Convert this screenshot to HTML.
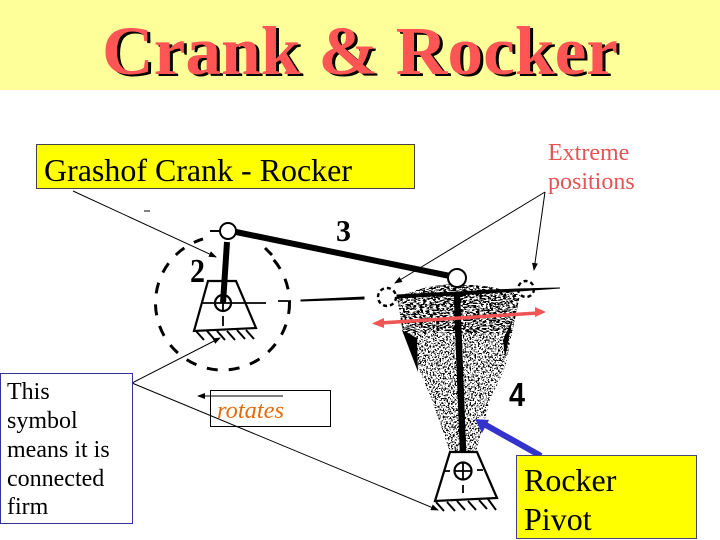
<!DOCTYPE html>
<html><head><meta charset="utf-8"><style>
html,body{margin:0;padding:0;background:#fff;width:720px;height:540px;overflow:hidden}
svg{display:block}
text{font-family:"Liberation Serif",serif}
</style></head><body>
<svg width="720" height="540" viewBox="0 0 720 540" xmlns="http://www.w3.org/2000/svg">
<defs>
<filter id="n1" x="0" y="0" width="100%" height="100%" color-interpolation-filters="sRGB">
<feTurbulence type="fractalNoise" baseFrequency="0.3 0.7" numOctaves="2" seed="4" result="t"/>
<feColorMatrix in="t" type="matrix" values="0 0 0 0 0 0 0 0 0 0 0 0 0 0 0 3 0 0 0 -1" result="a"/>
<feComponentTransfer in="a" result="d"><feFuncA type="discrete" tableValues="1 1 1 0 0 0"/></feComponentTransfer>
<feComposite in="d" in2="SourceAlpha" operator="in"/>
</filter>
<filter id="n2" x="0" y="0" width="100%" height="100%" color-interpolation-filters="sRGB">
<feTurbulence type="fractalNoise" baseFrequency="0.6 0.6" numOctaves="2" seed="9" result="t"/>
<feColorMatrix in="t" type="matrix" values="0 0 0 0 0 0 0 0 0 0 0 0 0 0 0 3 0 0 0 -1" result="a"/>
<feComponentTransfer in="a" result="d"><feFuncA type="discrete" tableValues="1 1 0 0 0 0"/></feComponentTransfer>
<feComposite in="d" in2="SourceAlpha" operator="in"/>
</filter>
<marker id="ah" markerWidth="8" markerHeight="6" refX="7" refY="3" orient="auto" markerUnits="userSpaceOnUse"><path d="M0 0L8 3L0 6z" fill="#000"/></marker>
</defs>

<rect x="0" y="0" width="720" height="90" fill="#ffff99"/>
<text x="105" y="76" font-size="69" font-weight="bold" fill="#000" textLength="516" lengthAdjust="spacingAndGlyphs">Crank &amp; Rocker</text>
<text x="102" y="74" font-size="69" font-weight="bold" fill="#ff5555" textLength="516" lengthAdjust="spacingAndGlyphs">Crank &amp; Rocker</text>

<!-- fan -->
<path d="M403 333L418 367L432 400L450 452H476L490 400L505 368L512 333Z" fill="#000" filter="url(#n2)"/>
<path d="M397 297Q455 272 520 295L512 333L403 333Z" fill="#000" filter="url(#n1)"/>
<path d="M402 330L417 338L418 372Z M518 307L512 322L505 358L503 340Z" fill="#000"/>

<!-- crank side -->
<circle cx="222.500" cy="303" r="67" fill="none" stroke="#000" stroke-width="3" stroke-dasharray="11 11"/>
<path d="M203 239A67 67 0 0 1 268 254" fill="none" stroke="#fff" stroke-width="7"/>
<path d="M265 248L272 255" stroke="#000" stroke-width="3"/>
<path d="M227 242L223 303" stroke="#000" stroke-width="6"/>
<path d="M236 232L450 276" stroke="#000" stroke-width="6"/>
<path d="M210 231H220" stroke="#000" stroke-width="2"/>
<circle cx="228" cy="231" r="8" fill="#fff" stroke="#000" stroke-width="2"/>
<path d="M208 281H236L256 328L194 331Z" fill="none" stroke="#000" stroke-width="2.200"/>
<circle cx="223" cy="303" r="8" fill="none" stroke="#000" stroke-width="2.200"/>
<path d="M202 303H266M223 295V311M223 316V326M278 301H288" stroke="#000" stroke-width="1.800" fill="none"/>
<path d="M301 300L364 297L364 299L301 301Z" fill="#000" stroke="#000"/>
<path d="M196 331L204 340M207 331L215 340M217 331L225 340M227 331L235 340M237 330L245 339M246 330L254 339" stroke="#000" stroke-width="2"/>

<!-- rocker -->
<path d="M397 295Q430 293 457 292Q500 289 560 288Q520 291 457 295Q430 296 397 298Z" fill="#000" stroke="#000"/>
<path d="M457 295L463 452" stroke="#000" stroke-width="6.500"/>
<circle cx="457" cy="278" r="9" fill="#fff" stroke="#000" stroke-width="2"/>
<circle cx="387" cy="297" r="9" fill="none" stroke="#000" stroke-width="2.400" stroke-dasharray="4 3"/>
<circle cx="526" cy="289" r="8" fill="none" stroke="#000" stroke-width="2.400" stroke-dasharray="4 3"/>
<path d="M450 452H477L497 498L435 501Z" fill="none" stroke="#000" stroke-width="2.200"/>
<circle cx="463" cy="471" r="8.500" fill="#fff" stroke="#000" stroke-width="2.200"/>
<path d="M463 463V479M455 471H471M445 471H450M477 470H483M463 485V493" stroke="#000" stroke-width="1.800" fill="none"/>
<path d="M436 502L444 511M447 502L455 511M457 501L465 510M468 501L476 510M479 500L487 509M488 499L496 510" stroke="#000" stroke-width="2"/>

<!-- numbers -->
<text x="336" y="241" font-size="31" font-weight="bold" fill="#000" textLength="15" lengthAdjust="spacingAndGlyphs">3</text>
<text x="190" y="282" font-size="34" font-weight="bold" fill="#000" textLength="15" lengthAdjust="spacingAndGlyphs">2</text>
<text x="509" y="406" font-size="33" font-weight="bold" fill="#000" textLength="16" lengthAdjust="spacingAndGlyphs" style="font-family:'Liberation Sans',sans-serif">4</text>

<!-- red arrow -->
<path d="M380 323L538 313" stroke="#f05555" stroke-width="3.500"/>
<path d="M372 323.500L384 318L384 328Z M546 312L535 307L535 317Z" fill="#f05555"/>

<!-- blue arrow -->
<path d="M541 456L484 424" stroke="#3333cc" stroke-width="6"/>
<path d="M475 419L489 420L482 433Z" fill="#3333cc"/>

<!-- leader lines -->
<g stroke="#000" stroke-width="1" fill="none">
<path d="M73 191L216 257" marker-end="url(#ah)"/>
<path d="M545 192L395 283" marker-end="url(#ah)"/>
<path d="M545 192L534 270" marker-end="url(#ah)"/>
<path d="M132 383L220 338" marker-end="url(#ah)"/>
<path d="M132 383L438 510" marker-end="url(#ah)"/>
<path d="M283 396H198" marker-end="url(#ah)"/>
</g>
<path d="M144 211H150" stroke="#000" stroke-width="1"/>

<!-- boxes -->
<rect x="36.500" y="144.500" width="378" height="44" fill="#ffff00" stroke="#444" stroke-width="1"/>
<text x="44" y="181" font-size="32" fill="#000" textLength="308" lengthAdjust="spacingAndGlyphs">Grashof Crank - Rocker</text>

<rect x="516.500" y="455.500" width="180" height="83" fill="#ffff00" stroke="#444477" stroke-width="1"/>
<text x="524" y="491" font-size="32" fill="#000">Rocker</text>
<text x="524" y="530" font-size="32" fill="#000">Pivot</text>

<rect x="0.500" y="373.500" width="132" height="150" fill="none" stroke="#333399" stroke-width="1"/>
<g font-size="24" fill="#000">
<text x="7" y="399">This</text>
<text x="7" y="428">symbol</text>
<text x="7" y="457">means it is</text>
<text x="7" y="486">connected</text>
<text x="7" y="514">firm</text>
</g>

<rect x="210.500" y="390.500" width="120" height="36" fill="none" stroke="#000" stroke-width="1"/>
<text x="217" y="418" font-size="24" font-style="italic" fill="#e46c0a" textLength="67" lengthAdjust="spacingAndGlyphs">rotates</text>

<g font-size="24" fill="#e35555">
<text x="548" y="160">Extreme</text>
<text x="548" y="189">positions</text>
</g>
</svg>
</body></html>
